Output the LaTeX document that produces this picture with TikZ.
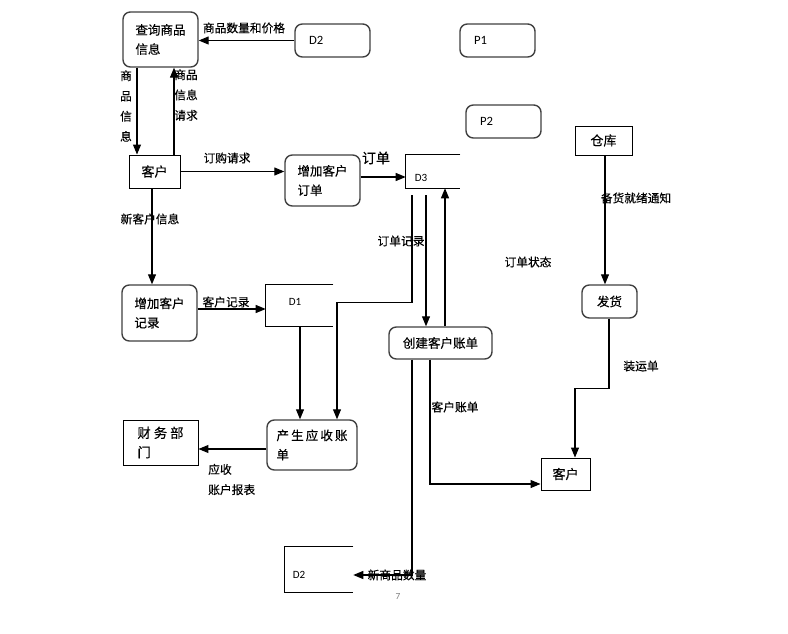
\documentclass[tikz,border=0pt]{standalone}
\usepackage{fontspec}
\setmainfont[FakeBold=0.25]{Noto Sans CJK SC}
\newfontfamily\latf{Carlito}
\usetikzlibrary{arrows.meta,calc}
\begin{document}
\begin{tikzpicture}[x=0.75pt,y=-0.75pt,
  every node/.style={font=\fontsize{9}{13.5}\selectfont, inner sep=0pt},
  sz/.style 2 args={minimum width=#1*0.75pt, minimum height=#2*0.75pt},
  rbox/.style={draw=black!75, line width=1.05pt, rounded corners=5.5pt, align=left, font=\fontsize{9.4}{14.5}\selectfont},
  sbox/.style={draw=black, line width=0.7pt, align=left, font=\fontsize{9.8}{14.5}\selectfont},
  pbox/.style={rbox, inner xsep=10.5pt, text width=35.25pt, minimum height=24.75pt, font=\latf\fontsize{9.5}{12}\selectfont},
  store/.style={line width=0.75pt},
  slbl/.style={font=\latf\fontsize{8.3}{10}\selectfont},
  lbl/.style={font=\fontsize{8.8}{15.2}\selectfont},
  arr/.style={line width=0.8pt, -{Triangle[length=7.5pt,width=6pt]}},
  ln/.style={line width=0.8pt}
]
\path[use as bounding box, fill=white] (0,0) rectangle (788,634);

% nodes
\node[rbox, sz={75}{55}] (cx) at (160.5,39.5) {查询商品\\信息};
\node[pbox] (D2t) at (332.5,40.5) {D2};
\node[pbox] (P1) at (497.5,40.5) {P1};
\node[pbox] (P2) at (503.5,121.5) {P2};
\node[sbox, sz={51}{33}] (kh1) at (154.5,171.5) {客户};
\node[rbox, sz={75}{51}] (dd) at (322.5,180.5) {增加客户\\订单};
\node[sz={54}{33}] (D3) at (433,171.5) {};
\draw[store] (D3.north east) -- (D3.north west) -- (D3.south west) -- (D3.south east);
\node[slbl] (D3l) at (421,178) {D3};
\node[sbox, sz={57}{29}] (ck) at (603.5,140.5) {仓库};
\node[rbox, sz={55}{33}] (fh) at (609.5,301.5) {发货};
\node[rbox, sz={75}{56}] (jl) at (159.5,313) {增加客户\\记录};
\node[sz={67}{41}] (D1) at (299.5,305.5) {};
\draw[store] (D1.north east) -- (D1.north west) -- (D1.south west) -- (D1.south east);
\node[slbl] (D1l) at (295,302) {D1};
\node[rbox, sz={103}{32}] (zd) at (440.5,343) {创建客户账单};
\node[sbox, sz={75}{45}, font=\fontsize{10}{14.5}\selectfont] (cw) at (160.5,442.5) {财\ 务\ 部\\门};
\node[rbox, sz={90}{50}] (ys) at (312,445) {产\,生\,应\,收\,账\\单};
\node[sbox, sz={49}{32}] (kh2) at (565.5,474) {客户};
\node[sz={68}{45}] (D2b) at (319,569.5) {};
\draw[store] (D2b.north east) -- (D2b.north west) -- (D2b.south west) -- (D2b.south east);
\node[slbl] (D2bl) at (299,575) {D2};

% labels
\node[lbl] (l1) at (244,28) {商品数量和价格};
\node[lbl, align=center] (l2) at (126,106) {商\\品\\信\\息};
\node[lbl, align=left, anchor=west] (l3) at (174,95) {商品\\信息\\请求};
\node[lbl] (l4) at (227,158) {订购请求};
\node[lbl, font=\fontsize{10.5}{12}\selectfont] (l5) at (376,158) {订单};
\node[lbl] (l6) at (150,219) {新客户信息};
\node[lbl] (l7) at (226,302) {客户记录};
\node[lbl] (l8) at (401,241) {订单记录};
\node[lbl] (l9) at (528,262) {订单状态};
\node[lbl] (l10) at (636,198) {备货就绪通知};
\node[lbl] (l11) at (641,366) {装运单};
\node[lbl] (l12) at (455,407) {客户账单};
\node[lbl, align=left, anchor=west] (l13) at (208,479.5) {应收\\账户报表};
\node[lbl] (l14) at (397,575) {新商品数量};
\node[font=\latf\fontsize{7}{8}\selectfont, text=gray] (pg) at (398,597) {7};

% connectors
\draw[arr] (D2t.west) -- (D2t.west -| cx.east);
\draw[arr] ($(cx.south)+(-23.5,0)$) -- ($(kh1.north)+(-17.5,0)$);
\draw[arr] ($(kh1.north)+(19.5,0)$) -- ($(cx.south)+(13.5,0)$);
\draw[arr] (kh1.east) -- (kh1.east -| dd.west);
\draw[arr] ($(dd.east)+(0,-3.5)$) coordinate (a5) -- (a5 -| D3.west);
\draw[arr] ($(kh1.south)+(-2.5,0)$) coordinate (a6) -- (a6 |- jl.north);
\draw[arr] ($(jl.east)+(0,-4)$) coordinate (a7) -- (a7 -| D1.west);
\draw[arr] ($(D1.south)+(0.5,0)$) coordinate (a8) -- (a8 |- ys.north);
\draw[arr] ($(D3.south)+(-21,7)$) |- ($(ys.north)+(25,-117)$) -- ($(ys.north)+(25,0)$);
\draw[arr] ($(D3.south)+(-7,7)$) coordinate (a10) -- (a10 |- zd.north);
\draw[arr] ($(zd.north)+(4.5,0)$) coordinate (a11) -- (a11 |- D3.south);
\draw[arr] ($(ck.south)+(1.5,0)$) coordinate (a12) -- (a12 |- fh.north);
\draw[arr] ($(fh.south)+(-0.5,0)$) -- ++(0,70) -| ($(kh2.north)+(9.5,0)$);
\draw[arr] ($(zd.south)+(-10.5,0)$) |- ($(kh2.west)+(0,10)$);
\draw[arr] ($(zd.south)+(-28.5,0)$) |- ($(D2b.east)+(0,5.5)$);
\draw[arr] ($(ys.west)+(0,4)$) coordinate (a16) -- (a16 -| cw.east);
\end{tikzpicture}
\end{document}
